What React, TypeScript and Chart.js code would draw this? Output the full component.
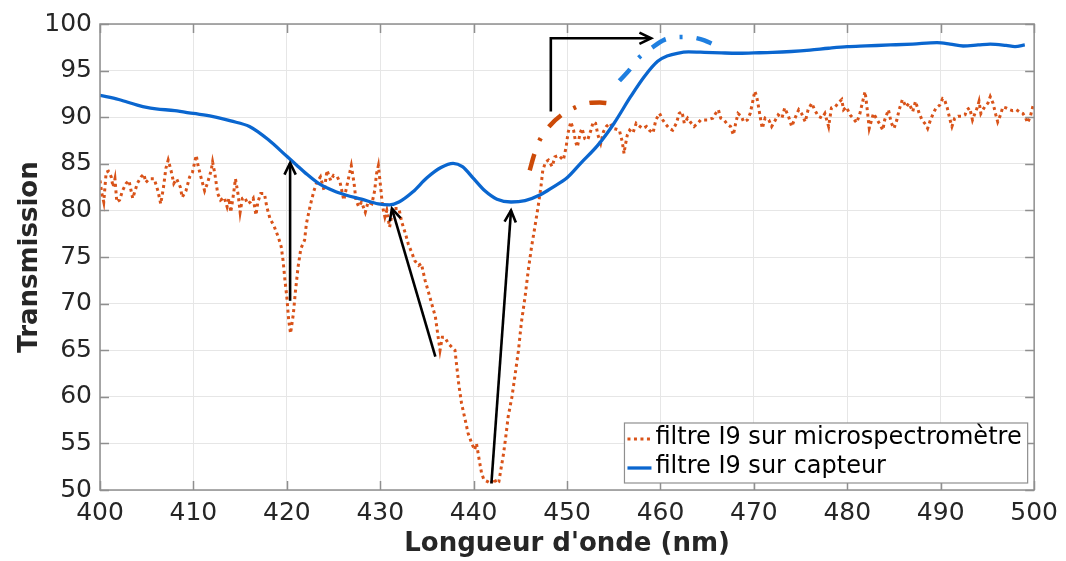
import React, { useEffect, useRef } from "react";
import { Chart, registerables } from "chart.js";
Chart.register(...registerables);

const FONT = "'DejaVu Sans', 'Liberation Sans', sans-serif";

// axis ranges / tick steps
const xRange = [400, 500];
const xStep = 10;
const yRange = [50, 100];
const yStep = 5;

const labelMicro = "filtre I9 sur microspectromètre";
const labelCapteur = "filtre I9 sur capteur";
const xTitle = "Longueur d'onde (nm)";
const yTitle = "Transmission";

// filtre I9 sur capteur (solid blue)
const capteur: [number, number][] = [
  [400, 92.35], [402, 91.9], [404, 91.3], [405, 91.05], [406, 90.9], [408, 90.7], [410, 90.4],
  [412, 90.1], [414, 89.6], [416, 89.0], [418, 87.6], [420, 85.8], [421, 84.9], [422, 84.0],
  [423.4, 82.9], [425, 82.1], [426.3, 81.65], [428, 81.2], [429.8, 80.7], [431, 80.6], [432, 80.9],
  [433.5, 82.0], [435, 83.5], [436.5, 84.6], [437.8, 85.05], [438.8, 84.7], [440, 83.4],
  [441.2, 82.1], [442.5, 81.2], [444, 80.9], [445.5, 81.05], [447.2, 81.7], [448.5, 82.5],
  [450, 83.5], [451.5, 85.1], [453.3, 87.0], [455, 89.3], [456.8, 92.2], [458.3, 94.4],
  [459.7, 96.0], [460.8, 96.6], [461.8, 96.86], [463, 97.0], [464.7, 96.96], [466.5, 96.9],
  [468.2, 96.86], [470, 96.9], [472, 96.95], [474, 97.05], [476, 97.2], [478, 97.4], [480, 97.57],
  [482, 97.65], [484.6, 97.75], [487, 97.85], [489.6, 98.0], [491, 97.85], [492.4, 97.64],
  [494, 97.75], [495.3, 97.85], [497, 97.7], [497.95, 97.57], [499, 97.75],
];

// filtre I9 sur microspectromètre (dotted orange)
const micro: [number, number][] = [
  [400.0, 83.2], [400.2, 81.8], [400.4, 80.9], [400.66, 84.1], [400.9, 84.2], [401.2, 83.6], [401.4, 82.5],
  [401.6, 83.4], [401.8, 80.9], [402.1, 81.1], [402.4, 82.1], [402.8, 82.9], [403.1, 83.2], [403.5, 81.3],
  [403.75, 82.1], [404.0, 82.9], [404.4, 83.6], [404.7, 83.9], [404.9, 83.0], [405.3, 83.4], [405.8, 83.4],
  [406.2, 82.1], [406.5, 80.7], [406.8, 82.5], [407.05, 84.5], [407.3, 85.4], [407.6, 84.3], [407.9, 82.9],
  [408.2, 83.4], [408.6, 82.5], [408.8, 81.4], [409.2, 82.1], [409.6, 83.6], [409.9, 84.1], [410.3, 85.9],
  [410.5, 84.8], [410.8, 83.6], [411.2, 82.1], [411.5, 82.9], [411.9, 84.3], [412.05, 85.2], [412.3, 83.9],
  [412.6, 81.8], [412.9, 81.1], [413.3, 81.4], [413.6, 80.4], [413.8, 81.3], [414.0, 79.8], [414.3, 81.8],
  [414.5, 83.4], [414.8, 81.6], [415.0, 79.8], [415.25, 81.3], [415.5, 81.4], [415.8, 80.7], [416.1, 80.9],
  [416.4, 81.3], [416.7, 79.5], [416.9, 80.9], [417.2, 81.8], [417.6, 81.8], [417.85, 80.4], [418.2, 79.1],
  [418.6, 78.4], [419.1, 77.1], [419.4, 76.1], [419.6, 74.6], [419.8, 72.5], [420.0, 70.7], [420.2, 68.2],
  [420.4, 66.8], [420.7, 68.9], [420.9, 71.1], [421.2, 73.9], [421.5, 75.9], [421.9, 76.8], [422.1, 78.6],
  [422.5, 80.5], [422.9, 82.1], [423.2, 83.0],
  [423.6, 83.6], [424.0, 82.1], [424.3, 84.3], [424.7, 83.2], [425.0, 83.75], [425.4, 83.6], [425.7, 83.0],
  [426.1, 81.1], [426.4, 82.5], [426.7, 83.9], [426.9, 84.8], [427.2, 82.9], [427.4, 81.1], [427.7, 80.4],
  [428.0, 80.9], [428.4, 79.8], [428.7, 80.9], [429.1, 80.7], [429.4, 82.1], [429.6, 83.9], [429.8, 84.8],
  [430.0, 82.9], [430.25, 80.4], [430.5, 79.3], [430.7, 80.0], [431.0, 78.2], [431.25, 79.5], [431.5, 80.2],
  [432.0, 80.2], [432.3, 78.75], [432.7, 77.5], [433.0, 76.4], [433.4, 75.4], [433.7, 74.6], [434.1, 74.1],
  [434.4, 74.3], [434.8, 72.5], [435.2, 71.1], [435.5, 70.0], [435.9, 68.6], [436.2, 66.4], [436.4, 65.0],
  [436.65, 66.4], [436.9, 66.4], [437.3, 65.7], [437.65, 65.35], [438.0, 65.0], [438.2, 63.2], [438.4, 61.4],
  [438.7, 59.3], [439.1, 57.5], [439.4, 56.1], [439.8, 55.0], [440.1, 54.3], [440.3, 55.0], [440.6, 53.2],
  [440.85, 51.8], [441.1, 51.1], [441.5, 50.9], [441.85, 50.7], [442.2, 51.25], [442.45, 50.7], [442.7, 50.9],
  [442.9, 52.1], [443.2, 53.9], [443.4, 55.4], [443.7, 57.9], [444.1, 60.0], [444.4, 62.1], [444.8, 65.0],
  [445.1, 67.9], [445.5, 70.7], [445.85, 73.6], [446.2, 76.1], [446.55, 78.2], [446.9, 80.4], [447.2, 82.5],
  [447.4, 84.3],
  [447.7, 85.2], [448.0, 85.4], [448.4, 84.7], [448.7, 85.75], [449.1, 85.9], [449.4, 85.6], [449.6, 85.4],
  [449.9, 86.8], [450.1, 88.3], [450.4, 89.5], [450.7, 88.6], [450.9, 87.4], [451.1, 86.8], [451.4, 88.3],
  [451.6, 88.8], [451.9, 87.7], [452.2, 87.55], [452.55, 88.6], [452.8, 89.5], [453.05, 89.35], [453.3, 88.1],
  [453.6, 87.2], [453.9, 88.45], [454.2, 89.0], [454.6, 89.35], [454.9, 88.8], [455.3, 88.7], [455.6, 88.6],
  [455.9, 87.4], [456.1, 86.1], [456.2, 86.8], [456.45, 88.1], [456.7, 88.6], [457.05, 88.3], [457.4, 89.35],
  [457.8, 89.0], [458.1, 88.8], [458.5, 89.0], [458.8, 88.6], [459.2, 88.3], [459.5, 89.7], [459.9, 90.4],
  [460.25, 89.7], [460.6, 89.2], [460.95, 88.8], [461.3, 88.6], [461.7, 89.35], [462.0, 90.4], [462.3, 90.6],
  [462.55, 89.35], [462.9, 89.9], [463.3, 89.35], [463.6, 89.0], [464.0, 89.35], [464.3, 89.7], [464.7, 89.7],
  [465.0, 89.7], [465.6, 89.9], [465.9, 90.4], [466.2, 90.8], [466.45, 89.9], [466.8, 89.7], [467.2, 89.2],
  [467.5, 89.0], [467.8, 88.1], [468.05, 89.35], [468.3, 90.4], [468.65, 90.1], [468.9, 89.5], [469.3, 89.7],
  [469.6, 90.4], [469.8, 91.3], [470.1, 92.8],
  [470.3, 92.2], [470.5, 91.1], [470.7, 89.9], [470.9, 88.8], [471.2, 89.9], [471.6, 89.7], [471.9, 89.0],
  [472.3, 89.7], [472.6, 90.25], [473.0, 89.9], [473.3, 91.0], [473.7, 90.1], [474.05, 89.0], [474.4, 89.9],
  [474.8, 90.8], [475.1, 90.4], [475.5, 89.5], [475.8, 90.8], [476.2, 91.5], [476.5, 90.8], [476.9, 90.1],
  [477.3, 89.9], [477.6, 90.4], [478.0, 89.0], [478.3, 91.0], [478.7, 91.1], [479.0, 91.5], [479.4, 91.9],
  [479.6, 90.8], [479.9, 91.1], [480.3, 90.25], [480.6, 89.9], [481.0, 89.4], [481.35, 90.4], [481.6, 91.5],
  [481.9, 92.75], [482.1, 91.1], [482.35, 88.8], [482.6, 89.7], [482.8, 90.4], [483.1, 89.9], [483.5, 89.2],
  [483.8, 88.6], [484.0, 89.7], [484.4, 90.8], [484.7, 89.4], [485.0, 88.8], [485.3, 89.7], [485.55, 90.8],
  [485.9, 91.9], [486.3, 91.1], [486.6, 91.5], [487.0, 90.6], [487.3, 91.7], [487.7, 90.4], [488.0, 89.7],
  [488.4, 89.2], [488.6, 88.8], [488.9, 89.7], [489.2, 90.4], [489.5, 91.0], [489.9, 91.3], [490.2, 92.0],
  [490.4, 91.9], [490.7, 91.0], [491.0, 89.7], [491.2, 89.0], [491.5, 89.9], [491.85, 90.1], [492.2, 90.1],
  [492.6, 90.25], [492.8, 90.8], [493.1, 91.0], [493.4, 89.7], [493.6, 90.25], [493.9, 91.0], [494.1, 91.7],
  [494.3, 90.4], [494.7, 91.1], [495.05, 91.5], [495.3, 92.2], [495.6, 91.5], [495.9, 90.25], [496.1, 89.5],
  [496.4, 90.25], [496.65, 91.1], [497.0, 91.0], [497.4, 90.8], [497.7, 90.7], [498.1, 90.8], [498.4, 90.6],
  [498.8, 90.4], [499.1, 89.9], [499.3, 89.4], [499.6, 90.1], [499.9, 91.3],
];

// dash-dot shifted edges
const microShift: [number, number][] = [
  [446.0, 84.3], [446.5, 86.05], [447.1, 87.6], [448.05, 88.98], [449.4, 90.24], [450.9, 91.06],
  [452.0, 91.45], [452.6, 91.56], [453.5, 91.58], [454.4, 91.5],
];
const capteurShift: [number, number][] = [
  [455.6, 93.9], [456.7, 95.1], [457.5, 96.2], [458.3, 96.9], [459.0, 97.4], [460.4, 98.3],
  [461.2, 98.5], [462.1, 98.6], [463.0, 98.6], [463.8, 98.5], [464.7, 98.25], [465.6, 97.85],
];

// arrows (data coordinates): tail -> tip
const arrowTails: [number, number][] = [[420.35, 70.3], [435.9, 64.3], [441.9, 50.7]];
const arrowTips: [number, number][] = [[420.35, 85.1], [431.25, 80.2], [444.0, 80.0]];
const elbowArrow: [number, number][] = [[448.26, 90.6], [448.26, 98.47], [459.0, 98.47]];

const BLUE = "#0a66cf";
const ORANGE = "#d95319";
const AXIS = "#8f8f8f";
const TEXT = "#262626";

const toXY = (a: [number, number][]) => a.map(([x, y]) => ({ x, y }));

function head(ctx: CanvasRenderingContext2D, x1: number, y1: number, x2: number, y2: number) {
  const ang = Math.atan2(y2 - y1, x2 - x1);
  const L = 13, w = 0.45;
  ctx.beginPath();
  ctx.moveTo(x2 - L * Math.cos(ang - w), y2 - L * Math.sin(ang - w));
  ctx.lineTo(x2, y2);
  ctx.lineTo(x2 - L * Math.cos(ang + w), y2 - L * Math.sin(ang + w));
  ctx.stroke();
}

const decor = {
  id: "decor",
  afterDraw(chart: any) {
    const { ctx, chartArea: a, scales } = chart;
    const xs = scales.x, ys = scales.y;
    ctx.save();
    // arrows
    ctx.strokeStyle = "#000";
    ctx.lineWidth = 2.6;
    ctx.lineJoin = "miter";
    ctx.setLineDash([]);
    arrowTails.forEach((t, i) => {
      const x1 = xs.getPixelForValue(t[0]), y1 = ys.getPixelForValue(t[1]);
      const x2 = xs.getPixelForValue(arrowTips[i][0]), y2 = ys.getPixelForValue(arrowTips[i][1]);
      ctx.beginPath(); ctx.moveTo(x1, y1); ctx.lineTo(x2, y2); ctx.stroke();
      head(ctx, x1, y1, x2, y2);
    });
    {
      const p = elbowArrow.map(([x, y]) => [xs.getPixelForValue(x), ys.getPixelForValue(y)]);
      ctx.beginPath(); ctx.moveTo(p[0][0], p[0][1]);
      for (let i = 1; i < p.length; i++) ctx.lineTo(p[i][0], p[i][1]);
      ctx.stroke();
      head(ctx, p[1][0], p[1][1], p[2][0], p[2][1]);
    }
    // box
    ctx.strokeStyle = AXIS;
    ctx.lineWidth = 1.5;
    ctx.strokeRect(a.left, a.top, a.right - a.left, a.bottom - a.top);
    // inner ticks
    const tl = 9;
    ctx.beginPath();
    for (let v = xRange[0]; v <= xRange[1]; v += xStep) {
      const px = Math.round(xs.getPixelForValue(v)) + 0.5;
      ctx.moveTo(px, a.bottom); ctx.lineTo(px, a.bottom - tl);
      ctx.moveTo(px, a.top); ctx.lineTo(px, a.top + tl);
    }
    for (let v = yRange[0]; v <= yRange[1]; v += yStep) {
      const py = Math.round(ys.getPixelForValue(v)) + 0.5;
      ctx.moveTo(a.left, py); ctx.lineTo(a.left + tl, py);
      ctx.moveTo(a.right, py); ctx.lineTo(a.right - tl, py);
    }
    ctx.stroke();
    // legend
    const items = [chart.data.datasets[1], chart.data.datasets[0]];
    ctx.font = `24px ${FONT}`;
    const tw = Math.max(...items.map((d: any) => ctx.measureText(d.label).width));
    const bw = 31 + tw + 6, bh = 60;
    const bx = a.right - 6.5 - bw, by = a.bottom - 7 - bh;
    ctx.fillStyle = "#fff";
    ctx.fillRect(bx, by, bw, bh);
    ctx.strokeStyle = AXIS;
    ctx.lineWidth = 1.2;
    ctx.strokeRect(bx, by, bw, bh);
    items.forEach((d: any, i: number) => {
      const cy = by + 15 + i * 29;
      ctx.strokeStyle = d.borderColor;
      ctx.lineWidth = d.borderWidth;
      ctx.setLineDash(d.borderDash || []);
      ctx.beginPath(); ctx.moveTo(bx + 3, cy + 1); ctx.lineTo(bx + 27, cy + 1); ctx.stroke();
      ctx.setLineDash([]);
      ctx.fillStyle = "#000";
      ctx.textBaseline = "middle";
      ctx.textAlign = "left";
      ctx.fillText(d.label, bx + 31, cy);
    });
    ctx.restore();
  },
};

export default function App() {
  const ref = useRef<HTMLCanvasElement>(null);
  useEffect(() => {
    const chart = new Chart(ref.current!, {
      type: "line",
      data: {
        datasets: [
          {
            label: labelCapteur, data: toXY(capteur), borderColor: BLUE, borderWidth: 3.3,
            pointRadius: 0, cubicInterpolationMode: "monotone", order: 0,
          },
          {
            label: labelMicro, data: toXY(micro), borderColor: ORANGE, borderWidth: 3,
            borderDash: [3, 3.5], pointRadius: 0, tension: 0, order: 1,
          },
          {
            label: "capteur (décalé)", data: toXY(capteurShift), borderColor: "#1f7fe0", borderWidth: 4.5,
            borderDash: [16, 14, 3, 14], pointRadius: 0, cubicInterpolationMode: "monotone", order: 2,
          },
          {
            label: "microspectromètre (décalé)", data: toXY(microShift), borderColor: "#cc4a08", borderWidth: 4.5,
            borderDash: [17, 14, 3, 14], pointRadius: 0, cubicInterpolationMode: "monotone", order: 3,
          },
        ],
      },
      options: {
        animation: false,
        responsive: false,
        devicePixelRatio: 1,
        layout: { padding: { top: 24, right: 28.5, left: 0, bottom: 0 } },
        plugins: { legend: { display: false }, tooltip: { enabled: false } },
        scales: {
          x: {
            type: "linear", min: xRange[0], max: xRange[1],
            ticks: { stepSize: xStep, color: TEXT, font: { family: FONT, size: 25 }, padding: 8, maxRotation: 0 },
            grid: { color: "#e6e6e6", lineWidth: 1, drawTicks: false },
            border: { display: false },
            title: { display: true, text: xTitle, color: TEXT, font: { family: FONT, size: 26, weight: "bold" }, padding: { top: 0, bottom: 1 } },
            afterFit: (s: any) => { s.height = 71; },
          },
          y: {
            type: "linear", min: yRange[0], max: yRange[1],
            ticks: { stepSize: yStep, color: TEXT, font: { family: FONT, size: 25 }, padding: 8 },
            grid: { color: "#e6e6e6", lineWidth: 1, drawTicks: false },
            border: { display: false },
            title: { display: true, text: yTitle, color: TEXT, font: { family: FONT, size: 26, weight: "bold" }, padding: { top: 15, bottom: 15 } },
            afterFit: (s: any) => { s.width = 100; },
          },
        },
      },
      plugins: [decor],
    } as any);
    return () => chart.destroy();
  }, []);
  return (
    <div style={{ position: "fixed", left: 0, top: 0, width: 1066, height: 561, background: "#fff" }}>
      <canvas ref={ref} width={1066} height={561} style={{ width: 1066, height: 561 }} />
    </div>
  );
}
